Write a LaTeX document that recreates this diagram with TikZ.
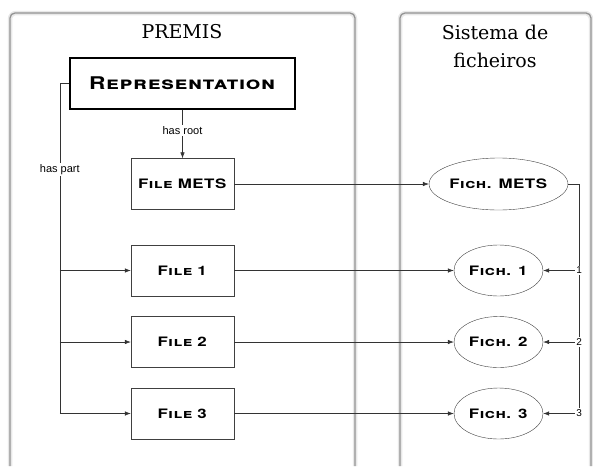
\documentclass[tikz,border=0pt]{standalone}
\usepackage{fontspec}
\usetikzlibrary{arrows.meta, shapes.geometric}
\newfontfamily\titlefont{DejaVu Serif}
\newfontfamily\capfont[FakeStretch=1.3, LetterSpace=4]{TeX Gyre Heros}
\newfontfamily\relfont{Liberation Sans}

\begin{document}
\begin{tikzpicture}[x=1pt, y=1pt, >={Latex[length=6pt, width=4.5pt]},
		panel/.style={draw=gray!85, line width=1.3pt, rounded corners=5pt},
		panelshade/.style={draw=gray!18, line width=4.5pt, rounded corners=6pt},
		filebox/.style={rectangle, draw=black!75, minimum width=103pt, minimum height=51pt,
			font=\capfont\bfseries\fontsize{13}{14}\selectfont},
		fichnode/.style={ellipse, draw=black!75, minimum width=89pt, minimum height=51pt,
			inner sep=0pt, font=\capfont\bfseries\fontsize{13}{14}\selectfont},
		relname/.style={fill=white, inner sep=1.5pt, font=\relfont\fontsize{11}{12}\selectfont},
		link/.style={draw=black!80, line width=0.6pt}
		]
		\useasboundingbox (0,0) rectangle (593,-466);

		% panels
		\draw[panelshade] (10,-466) -- (10,-13) -- (355,-13) -- (355,-466);
		\draw[panelshade] (400,-466) -- (400,-13) -- (591,-13) -- (591,-466);
		\draw[panel] (10,-466) -- (10,-13) -- (355,-13) -- (355,-466);
		\draw[panel] (400,-466) -- (400,-13) -- (591,-13) -- (591,-466);
		\node[font=\titlefont\fontsize{19}{20}\selectfont] (premis) at (182,-32) {PREMIS};
		\node[font=\titlefont\fontsize{19}{28}\selectfont, align=center] (sist) at (495,-46)
			{Sistema de\\ficheiros};

		% PREMIS side
		\node[filebox, draw=black, line width=1.2pt, minimum width=225pt,
			font=\capfont\bfseries\fontsize{17.5}{18}\selectfont] (rep) at (182.5,-83.5)
			{\textsc{Representation}};
		\node[filebox, below of=rep, node distance=100.5pt](fmets){\textsc{File METS}};
		\node[filebox, below of=fmets, node distance=86.5pt](f1){\textsc{File 1}};
		\node[filebox, below of=f1, node distance=71.5pt](f2){\textsc{File 2}};
		\node[filebox, below of=f2, node distance=71.5pt](f3){\textsc{File 3}};
		\draw[link,->] (rep) -- node[relname, pos=0.43]{has root} (fmets);
		\coordinate (bus) at ([xshift=-71pt]f3.west);
		\draw[link] (rep.west) -| node[relname, pos=0.63]{has part} (bus);
		\draw[link,->] (bus) -- (f3);
		\draw[link,->] (bus |- f1) -- (f1);
		\draw[link,->] (bus |- f2) -- (f2);

		% file system side
		\node[fichnode, right of=fmets, node distance=316pt, minimum width=131pt,
			minimum height=52pt](xmets){\textsc{Fich. METS}};
		\node[fichnode, right of=f1, node distance=316pt](x1){\textsc{Fich. 1}};
		\node[fichnode, right of=f2, node distance=316pt](x2){\textsc{Fich. 2}};
		\node[fichnode, right of=f3, node distance=316pt](x3){\textsc{Fich. 3}};
		\draw[link,->] (fmets) -- (xmets);
		\foreach \i in {1,2,3}
			\draw[link,->] (f\i) -- (x\i);
		\coordinate (rbus) at ([xshift=11pt]xmets.east);
		\draw[link] (xmets) -- (rbus) -- (rbus |- x3);
		\foreach \i in {1,2,3}
			\node[relname, font=\relfont\fontsize{10}{11}\selectfont] (n\i) at (rbus |- x\i) {\i};
		\foreach \i in {1,2,3}
			\draw[link,->] (n\i) -- (x\i);
	\end{tikzpicture}
\end{document}
